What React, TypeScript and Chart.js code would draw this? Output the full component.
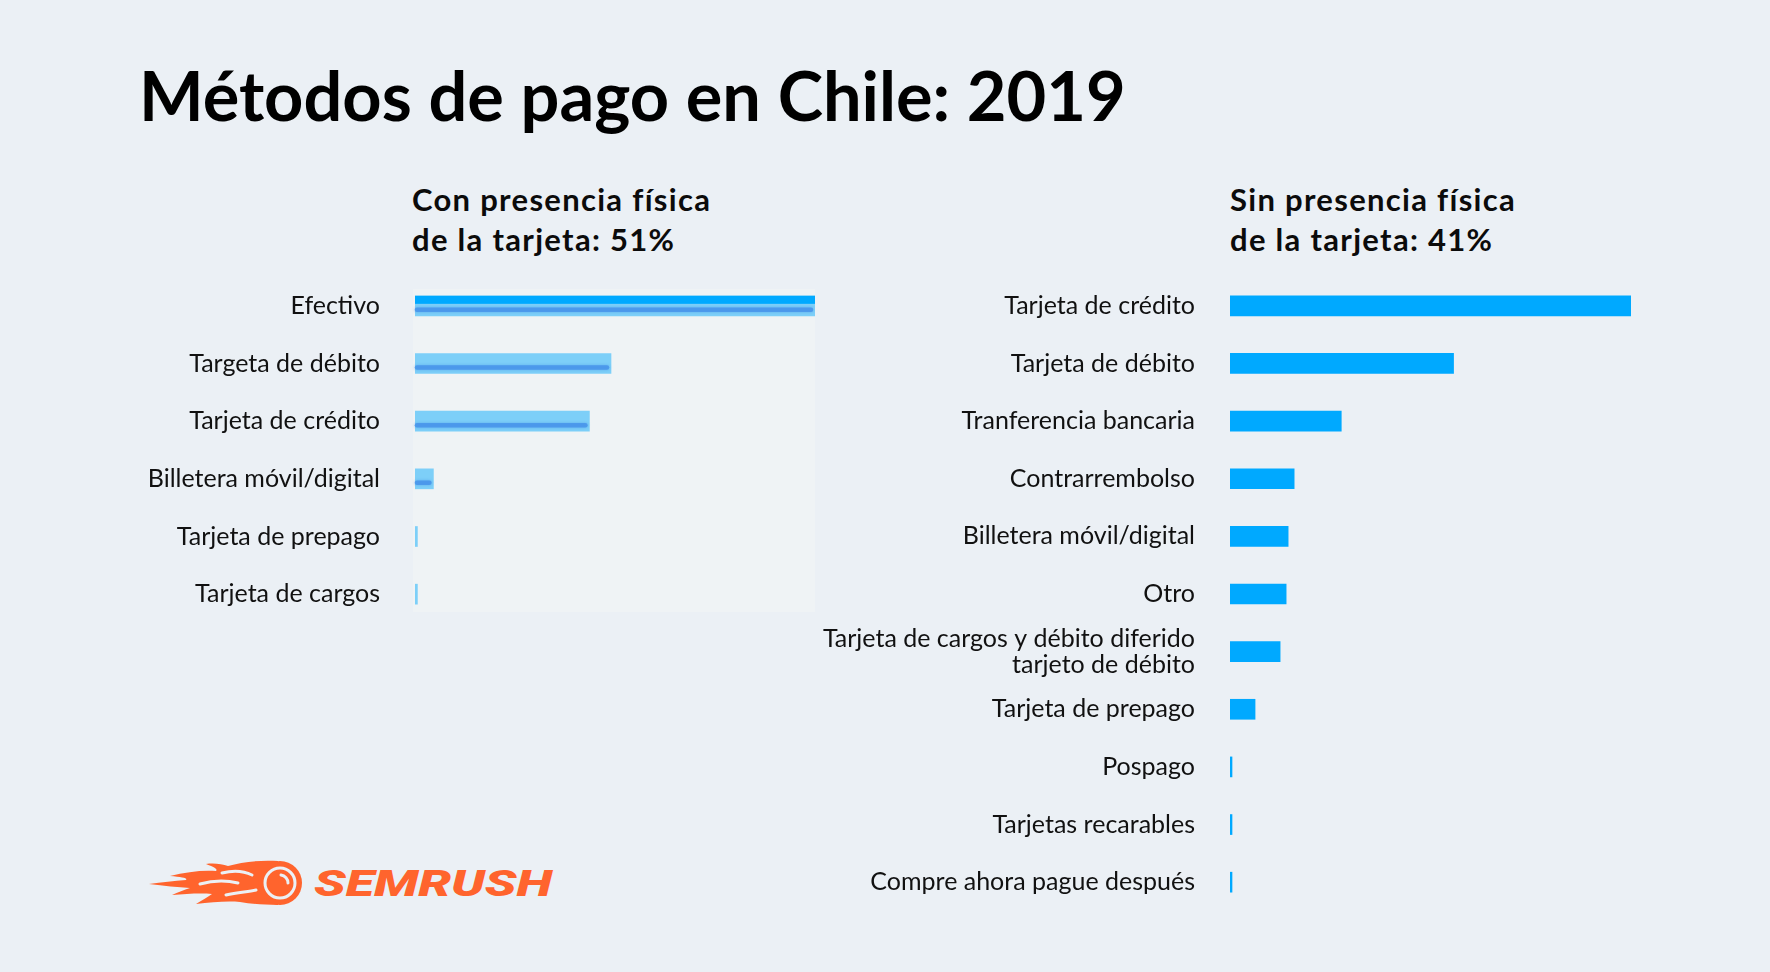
import React, { useEffect, useRef } from "react";
import { Chart, registerables } from "chart.js";
Chart.register(...registerables);

const TITLE = "Métodos de pago en Chile: 2019";
const LEFT_TITLE = ["Con presencia física", "de la tarjeta: 51%"];
const RIGHT_TITLE = ["Sin presencia física", "de la tarjeta: 41%"];

const leftCategories = [
  "Efectivo",
  "Targeta de débito",
  "Tarjeta de crédito",
  "Billetera móvil/digital",
  "Tarjeta de prepago",
  "Tarjeta de cargos",
];
const leftValues = [50, 24.5, 21.8, 2.3, 0.3, 0.3];

const rightCategories: (string | string[])[] = [
  "Tarjeta de crédito",
  "Tarjeta de débito",
  "Tranferencia bancaria",
  "Contrarrembolso",
  "Billetera móvil/digital",
  "Otro",
  ["Tarjeta de cargos y débito diferido", "tarjeto de débito"],
  "Tarjeta de prepago",
  "Pospago",
  "Tarjetas recarables",
  "Compre ahora pague después",
];
const rightValues = [40, 22.3, 11.1, 6.4, 5.8, 5.6, 5.0, 2.5, 0.2, 0.2, 0.2];

const BG = "#ebf0f5";
const BRIGHT = "#00a9ff";
const LIGHT = "#7dcff8";
const ORANGE = "#ff642d";
const PAD = 20;

const panelBgPlugin = {
  id: "panelBg",
  beforeDraw(chart: any, _args: any, opts: any) {
    if (!opts || !opts.color) return;
    const { ctx, chartArea } = chart;
    ctx.save();
    ctx.fillStyle = opts.color;
    ctx.fillRect(chartArea.left - 2, chartArea.top + 12, chartArea.right - chartArea.left + 3, chartArea.bottom - chartArea.top - 23);
    ctx.restore();
  },
};

const overlayPlugin = {
  id: "barOverlay",
  afterDatasetsDraw(chart: any, _args: any, opts: any) {
    if (!opts || !opts.enabled) return;
    const { ctx } = chart;
    const meta = chart.getDatasetMeta(0);
    meta.data.forEach((bar: any, i: number) => {
      const p = bar.getProps(["x", "y", "base", "height"], true);
      const top = p.y - p.height / 2;
      const len = p.x - p.base;
      ctx.save();
      if (i === 0) {
        ctx.fillStyle = BRIGHT;
        ctx.fillRect(p.base, top, len, p.height * 0.4);
      }
      if (len > 8) {
        ctx.strokeStyle = "rgba(72,148,234,0.85)";
        ctx.lineWidth = 4.5;
        ctx.lineCap = "round";
        ctx.shadowColor = "rgba(72,148,234,0.7)";
        ctx.shadowBlur = 3;
        ctx.beginPath();
        ctx.moveTo(p.base + 2, top + p.height * 0.7);
        ctx.lineTo(p.x - 4, top + p.height * 0.7);
        ctx.stroke();
      }
      ctx.restore();
    });
  },
};

type PanelProps = {
  labels: (string | string[])[];
  values: number[];
  max: number;
  plotLeft: number;
  plotWidth: number;
  top: number;
  height: number;
  axisWidth: number;
  color: string;
  overlay: boolean;
  panelColor?: string;
};

function BarPanel(props: PanelProps) {
  const ref = useRef<HTMLCanvasElement | null>(null);
  useEffect(() => {
    if (!ref.current) return;
    const chart = new Chart(ref.current, {
      type: "bar",
      data: {
        labels: props.labels as any,
        datasets: [
          {
            data: props.values,
            backgroundColor: props.color,
            borderWidth: 0,
            barThickness: 20,
          },
        ],
      },
      options: {
        indexAxis: "y",
        animation: false,
        responsive: false,
        maintainAspectRatio: false,
        layout: { padding: { top: PAD, bottom: PAD, left: 0, right: 0 } },
        plugins: {
          legend: { display: false },
          tooltip: { enabled: false },
          title: { display: false },
          panelBg: { color: props.panelColor },
          barOverlay: { enabled: props.overlay },
        } as any,
        scales: {
          x: { display: false, min: 0, max: props.max },
          y: {
            grid: { display: false, drawTicks: true, tickLength: 35 },
            border: { display: false },
            ticks: {
              autoSkip: false,
              padding: 0,
              color: "#111111",
              font: { family: "Lato", size: 25, lineHeight: 1.05 },
            },
            afterFit: (scale: any) => {
              scale.width = props.axisWidth;
            },
          } as any,
        },
      },
      plugins: [panelBgPlugin, overlayPlugin],
    });
    return () => chart.destroy();
  }, []);
  const w = props.axisWidth + props.plotWidth;
  const h = props.height + 2 * PAD;
  return (
    <canvas
      ref={ref}
      width={w}
      height={h}
      style={{
        position: "absolute",
        left: props.plotLeft - props.axisWidth,
        top: props.top - PAD,
        width: w,
        height: h,
      }}
    />
  );
}

function Logo() {
  return (
    <svg
      width={450}
      height={100}
      style={{ position: "absolute", left: 130, top: 840 }}
      viewBox="0 0 450 100"
    >
      <path
        d="M148,21 C128,20 112,22 98,26 C92,24 84,23 76,24 C84,27 88,29 86,31 C72,30 56,32 40,36 C52,37 58,38 56,40 C44,41 32,42 19,44 C34,46 48,47 60,48 C54,50 48,52 42,55 C56,54 70,53 82,54 C78,57 72,60 66,64 C82,62 98,61 110,62 C122,64 134,65 148,65 Z"
        fill={ORANGE}
      />
      <path d="M70,44 C84,40 96,40 108,43" stroke={BG} strokeWidth={3} fill="none" strokeLinecap="round" />
      <path d="M92,33 C104,30 114,31 122,35" stroke={BG} strokeWidth={3} fill="none" strokeLinecap="round" />
      <path d="M96,55 C108,52 118,52 126,50" stroke={BG} strokeWidth={3} fill="none" strokeLinecap="round" />
      <circle cx={150} cy={43} r={22} fill={ORANGE} />
      <circle cx={150} cy={43} r={15} fill="none" stroke={BG} strokeWidth={3} />
      <path d="M151,35 A8,8 0 0 1 158,43" stroke={BG} strokeWidth={3} fill="none" strokeLinecap="round" />
      <text
        x={184}
        y={56}
        fill={ORANGE}
        fontFamily="Roboto"
        fontWeight={900}
        fontStyle="italic"
        fontSize={36}
        textLength={238}
        lengthAdjust="spacingAndGlyphs"
      >
        SEMRUSH
      </text>
    </svg>
  );
}

export default function App() {
  useEffect(() => {
    document.body.style.margin = "0";
  }, []);
  const sub: React.CSSProperties = {
    position: "absolute",
    top: 179,
    fontFamily: "Lato",
    fontWeight: 700,
    fontSize: 31,
    letterSpacing: "1.3px",
    lineHeight: "40px",
    color: "#0b0b0b",
    whiteSpace: "nowrap",
  };
  return (
    <div
      style={{
        position: "fixed",
        left: 0,
        top: 0,
        width: 1770,
        height: 972,
        background: BG,
        overflow: "hidden",
      }}
    >
      <div
        style={{
          position: "absolute",
          left: 139,
          top: 54,
          fontFamily: "Lato",
          fontWeight: 700,
          fontSize: 68.5,
          lineHeight: 1.2,
          color: "#000",
          whiteSpace: "nowrap",
        }}
      >
        {TITLE}
      </div>
      <div style={{ ...sub, left: 412 }}>
        {LEFT_TITLE[0]}
        <br />
        {LEFT_TITLE[1]}
      </div>
      <div style={{ ...sub, left: 1230 }}>
        {RIGHT_TITLE[0]}
        <br />
        {RIGHT_TITLE[1]}
      </div>
      <BarPanel
        labels={leftCategories}
        values={leftValues}
        max={50}
        plotLeft={415}
        plotWidth={400}
        top={277}
        height={346}
        axisWidth={400}
        color={LIGHT}
        overlay={true}
        panelColor="#eff3f5"
      />
      <BarPanel
        labels={rightCategories}
        values={rightValues}
        max={40}
        plotLeft={1230}
        plotWidth={401}
        top={277}
        height={634}
        axisWidth={520}
        color={BRIGHT}
        overlay={false}
      />
      <Logo />
    </div>
  );
}
